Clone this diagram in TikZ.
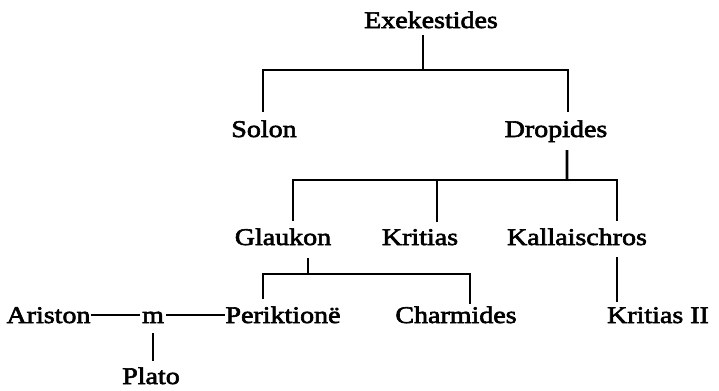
\documentclass[tikz,border=0pt]{standalone}
\usepackage{fontspec}
\setmainfont{Liberation Serif}[FakeStretch=1.17, FakeBold=2.6]
\usetikzlibrary{calc}

\begin{document}
\begin{tikzpicture}[x=1bp, y=-1bp,
  person/.style={anchor=base, inner sep=0pt, font=\fontsize{24pt}{28pt}\selectfont},
  line/.style={line width=1.8bp, line cap=butt},
  heavyline/.style={line width=2.8bp}]
\useasboundingbox (0,0) rectangle (719,390);

% generations, placed on their base lines
\node[person] (exe)    at (431,28)  {Exekestides};
\node[person] (solon)  at (264,137) {Solon};
\node[person] (drop)   at (556,137) {Dropides};
\node[person] (glau)   at (283,245) {Glaukon};
\node[person] (krit)   at (420,245) {Kritias};
\node[person] (kall)   at (577,245) {Kallaischros};
\node[person] (ari)    at (48.5,323) {Ariston};
\node[person, inner xsep=2bp] (m) at (153,323) {m};
\node[person] (peri)   at (283,323) {Periktionë};
\node[person] (charm)  at (456,323) {Charmides};
\node[person] (krit2)  at (658,323) {Kritias II};
\node[person] (plato)  at (151,384) {Plato};

% Exekestides -> Solon, Dropides
\coordinate (bar1) at (423,70);
\draw[line] ([xshift=-8bp,yshift=-7bp]exe.base) -- (bar1);
\draw[line] ([xshift=-1bp,yshift=8bp]solon.north) |- (bar1)
            -| ([xshift=12bp,yshift=8bp]drop.north);

% Dropides -> Glaukon, Kritias, Kallaischros
\coordinate (bar2) at (567,180);
\draw[heavyline] ([xshift=11bp,yshift=-13bp]drop.base) -- (bar2);
\draw[line] ([xshift=10bp,yshift=7bp]glau.north) |- (bar2)
            -| ([xshift=40bp,yshift=7bp]kall.north);
\coordinate (kr) at ([xshift=17bp,yshift=7bp]krit.north);
\draw[line] (kr) -- (kr |- bar2);

% Glaukon -> Periktione, Charmides
\coordinate (bar3) at (308,274);
\draw[line] ([xshift=25bp,yshift=-13bp]glau.base) -- (bar3);
\draw[line] ([xshift=-20bp,yshift=7bp]peri.north) |- (bar3)
            -| ([xshift=14bp,yshift=2bp]charm.north);

% Kallaischros -> Kritias II
\coordinate (kt) at ([xshift=40bp,yshift=-12bp]kall.base);
\draw[line] (kt) -- ($(kt |- krit2.north)+(0,-5)$);

% marriage Ariston -- m -- Periktione, and their son
\coordinate (wed) at (0,315);
\draw[line] (ari.east |- wed) -- (m.west |- wed);
\draw[line] (m.east |- wed) -- (peri.west |- wed);
\draw[line] ([yshift=-10bp]m.base) -- ($(m.base |- plato.north)+(0,-6)$);
\end{tikzpicture}
\end{document}
